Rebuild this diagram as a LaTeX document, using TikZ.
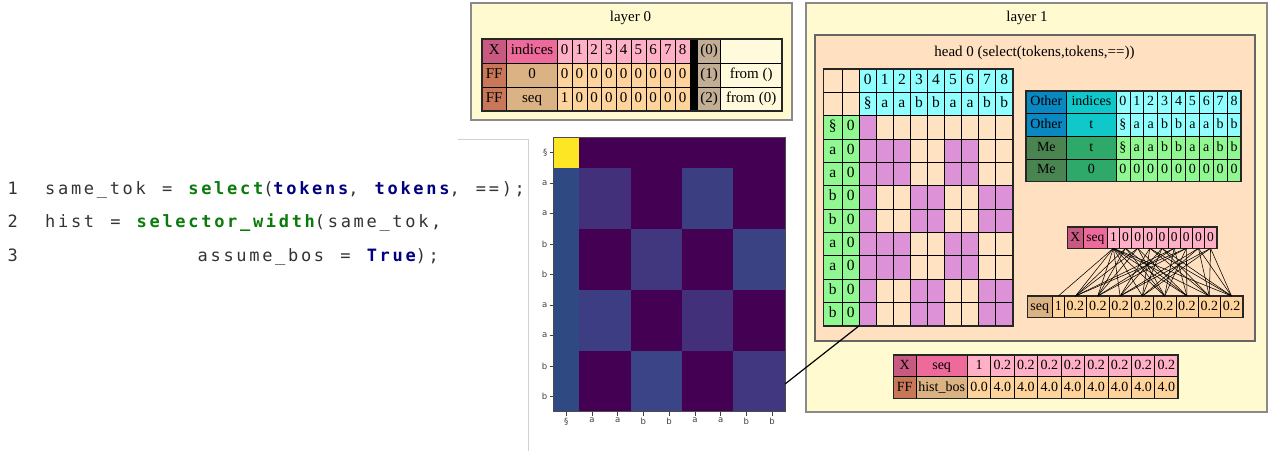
\documentclass[tikz,border=0pt]{standalone}
\usepackage{fontspec}
\setmainfont{Liberation Serif}
\newfontfamily\codefont[LetterSpace=15.8,WordSpace=1.25]{DejaVu Sans Mono}
\newfontfamily\tickfont{DejaVu Sans}
\definecolor{layerbg}{HTML}{FFFAD0}
\definecolor{layerdraw}{HTML}{8A8A8A}
\definecolor{headbg}{HTML}{FFE0C0}
\definecolor{xcol}{HTML}{C85A82}
\definecolor{pinkdark}{HTML}{EE6A9A}
\definecolor{pinklight}{HTML}{FFB0C6}
\definecolor{ffcol}{HTML}{C87858}
\definecolor{tanc}{HTML}{DBB283}
\definecolor{peach}{HTML}{FFD49C}
\definecolor{wheatc}{HTML}{C2AD95}
\definecolor{cream}{HTML}{FFFADC}
\definecolor{mpeach}{HTML}{FFE2C2}
\definecolor{plumc}{HTML}{DD92D8}
\definecolor{greenc}{HTML}{90F890}
\definecolor{cyanc}{HTML}{90FFFF}
\definecolor{otherc}{HTML}{0A88C2}
\definecolor{cyanmid}{HTML}{10C8CA}
\definecolor{medark}{HTML}{4A8450}
\definecolor{memid}{HTML}{2FA96A}
\definecolor{codegray}{HTML}{333333}
\definecolor{cgreen}{HTML}{0A7A0A}
\definecolor{cnavy}{HTML}{000080}
\definecolor{vyellow}{HTML}{FDE725}
\definecolor{vdark}{HTML}{440154}
\definecolor{vcol}{HTML}{2F4A82}
\definecolor{hm11}{HTML}{43307B}
\definecolor{hm13}{HTML}{3C3E82}
\definecolor{hm22}{HTML}{41377E}
\definecolor{hm24}{HTML}{3A4284}
\definecolor{hm31}{HTML}{3D3D83}
\definecolor{hm33}{HTML}{43307A}
\definecolor{hm42}{HTML}{3A4486}
\definecolor{hm44}{HTML}{413780}
\newcommand\tabfont{\fontsize{15}{15}\selectfont}
\newcommand\cg[1]{{\bfseries\color{cgreen}#1}}
\newcommand\cb[1]{{\bfseries\color{cnavy}#1}}
\tikzset{
 cell/.style={draw=black, line width=0.6pt, inner sep=0pt, outer sep=0pt, anchor=north west, font=\tabfont, text height=9.5pt, text depth=2.5pt},
 tframe/.style={draw=black!85, line width=1.6pt},
 layerbox/.style={draw=layerdraw, line width=1.4pt, fill=layerbg, inner sep=0pt, outer sep=0pt, anchor=north west},
 headbox/.style={draw=black!60, line width=1.3pt, fill=headbg, inner sep=0pt, outer sep=0pt, anchor=north west},
 title/.style={font=\fontsize{15}{15}\selectfont, inner sep=0pt},
 codest/.style={anchor=base west, inner sep=0pt, font=\codefont\fontsize{17}{17}\selectfont, text=codegray},
 fan/.style={draw=black, line width=0.55pt},
 tickln/.style={draw=black!75, line width=0.6pt},
 ticklab/.style={font=\tickfont\fontsize{8.5}{8.5}\selectfont, text=black!75, inner sep=0pt},
 conn/.style={draw=black, line width=1.2pt}
}
\newcommand\cel[7]{\node[cell, fill=#6, minimum width=#4pt, minimum height=#5pt] (#1) at (#2,#3) {#7};}
\newcommand\rowvals[7]{\foreach \v [count=\c from 0] in {#7} {\pgfmathsetmacro\xx{#2+\c*#4}\cel{#1-\c}{\xx}{#3}{#4}{#5}{#6}{\v}}}
\begin{document}
\begin{tikzpicture}[x=1pt,y=-1pt]
\useasboundingbox (0,0) rectangle (1269,451);
% ---------------- code
\node[codest] (n1) at (7.5,194) {1};
\node[codest] (n2) at (7.5,227.5) {2};
\node[codest] (n3) at (7.5,261.5) {3};
\node[codest] (c1) at (45,194) {same\_tok = \cg{select}(\cb{tokens}, \cb{tokens}, ==);};
\node[codest] (c2) at (45,227.5) {hist = \cg{selector\_width}(same\_tok,};
\node[codest] (c3) at (197.5,261.5) {assume\_bos = \cb{True});};
% ---------------- gray frame
\draw[black!18, line width=0.8pt] (458,139) -- (528,139) -- (528,451);
% ---------------- heatmap
\foreach \r in {0,...,8}{\foreach \c in {0,...,8}{
 \pgfmathtruncatemacro\rb{(\r+1)/2}
 \pgfmathtruncatemacro\cbb{(\c+1)/2}
 \pgfmathtruncatemacro\pr{mod(\rb+\cbb,2)}
 \ifnum\r=0 \ifnum\c=0 \def\hc{vyellow}\else\def\hc{vdark}\fi
 \else \ifnum\c=0 \def\hc{vcol}\else \ifnum\pr=0 \edef\hc{hm\rb\cbb}\else\def\hc{vdark}\fi\fi\fi
 \fill[\hc] (553.3+\c*25.74,137.3+\r*30.49) rectangle ++(25.74,30.49);
}}
\draw[black!70, line width=0.8pt] (553.3,137.3) rectangle (785,411.7);
\foreach \t [count=\i from 0] in {§,a,a,b,b,a,a,b,b}{
 \draw[tickln] (549.5,152.5+\i*30.49) -- ++(3.8,0);
 \node[ticklab, anchor=east] (yt-\i) at (547.5,152.5+\i*30.49) {\t};
 \draw[tickln] (566.2+\i*25.74,411.7) -- ++(0,3.8);
 \node[ticklab, anchor=north] (xt-\i) at (566.2+\i*25.74,418) {\t};
}
\coordinate (hmR) at (785,384);
% ---------------- layer 0
\node[layerbox, minimum width=321pt, minimum height=117pt] (layer0) at (471,3) {};
\node[title] (l0t) at (630.5,17.5) {layer 0};
\cel{a0x}{481.7}{39}{25}{24}{xcol}{X}
\cel{a0n}{506.7}{39}{50.6}{24}{pinkdark}{indices}
\rowvals{a0v}{557.3}{39}{14.75}{24}{pinklight}{0,1,2,3,4,5,6,7,8}
\cel{a0b}{690}{39}{7.3}{24}{black}{}
\cel{a0k}{697.3}{39}{23.4}{24}{wheatc}{(0)}
\cel{a0t}{720.7}{39}{61}{24}{cream}{}
\cel{a1x}{481.7}{63}{25}{24}{ffcol}{FF}
\cel{a1n}{506.7}{63}{50.6}{24}{tanc}{0}
\rowvals{a1v}{557.3}{63}{14.75}{24}{peach}{0,0,0,0,0,0,0,0,0}
\cel{a1b}{690}{63}{7.3}{24}{black}{}
\cel{a1k}{697.3}{63}{23.4}{24}{wheatc}{(1)}
\cel{a1t}{720.7}{63}{61}{24}{cream}{from ()}
\cel{a2x}{481.7}{87}{25}{24}{ffcol}{FF}
\cel{a2n}{506.7}{87}{50.6}{24}{tanc}{seq}
\rowvals{a2v}{557.3}{87}{14.75}{24}{peach}{1,0,0,0,0,0,0,0,0}
\cel{a2b}{690}{87}{7.3}{24}{black}{}
\cel{a2k}{697.3}{87}{23.4}{24}{wheatc}{(2)}
\cel{a2t}{720.7}{87}{61}{24}{cream}{from (0)}
\draw[tframe] (481.7,39) rectangle (781.7,111);
% ---------------- layer 1
\node[layerbox, minimum width=461pt, minimum height=409pt] (layer1) at (806,3) {};
\node[title] (l1t) at (1027,17.5) {layer 1};
\node[headbox, minimum width=440pt, minimum height=306pt] (head) at (815,35) {};
\node[title] (ht) at (1034.5,53) {head 0 (select(tokens,tokens,==))};
% selector matrix
\renewcommand\tabfont{\fontsize{15.5}{15}\selectfont}
\cel{m-0-a}{823.3}{69}{19}{23.33}{mpeach}{}
\cel{m-0-b}{842.3}{69}{17}{23.33}{mpeach}{}
\rowvals{m-0}{859.3}{69}{17.04}{23.33}{cyanc}{0,1,2,3,4,5,6,7,8}
\cel{m-1-a}{823.3}{92.33}{19}{23.33}{mpeach}{}
\cel{m-1-b}{842.3}{92.33}{17}{23.33}{mpeach}{}
\rowvals{m-1}{859.3}{92.33}{17.04}{23.33}{cyanc}{§,a,a,b,b,a,a,b,b}
\foreach \cr/\tk [count=\r from 2] in {0/§,1/a,1/a,2/b,2/b,1/a,1/a,2/b,2/b}{
 \pgfmathsetmacro\yy{69+\r*23.333}
 \cel{m-\r-a}{823.3}{\yy}{19}{23.33}{greenc}{\tk}
 \cel{m-\r-b}{842.3}{\yy}{17}{23.33}{greenc}{0}
 \foreach \cc [count=\c from 0] in {0,1,1,2,2,1,1,2,2}{
  \pgfmathsetmacro\xx{859.3+\c*17.04}
  \pgfmathtruncatemacro\sel{or(\c==0,\cr==\cc)}
  \ifnum\sel=1 \def\fc{plumc}\else\def\fc{mpeach}\fi
  \cel{m-\r-\c}{\xx}{\yy}{17.04}{23.33}{\fc}{}
 }
}
\draw[tframe] (823.3,69) rectangle (1012.7,325.7);
% other / me table
\renewcommand\tabfont{\fontsize{14}{14}\selectfont}
\cel{o0a}{1026}{91}{40.7}{22.67}{otherc}{Other}
\cel{o0b}{1066.7}{91}{49.3}{22.67}{cyanmid}{indices}
\rowvals{o0}{1116}{91}{13.89}{22.67}{cyanc}{0,1,2,3,4,5,6,7,8}
\cel{o1a}{1026}{113.67}{40.7}{22.67}{otherc}{Other}
\cel{o1b}{1066.7}{113.67}{49.3}{22.67}{cyanmid}{t}
\rowvals{o1}{1116}{113.67}{13.89}{22.67}{cyanc}{§,a,a,b,b,a,a,b,b}
\cel{o2a}{1026}{136.33}{40.7}{22.67}{medark}{Me}
\cel{o2b}{1066.7}{136.33}{49.3}{22.67}{memid}{t}
\rowvals{o2}{1116}{136.33}{13.89}{22.67}{greenc}{§,a,a,b,b,a,a,b,b}
\cel{o3a}{1026}{159}{40.7}{22.67}{medark}{Me}
\cel{o3b}{1066.7}{159}{49.3}{22.67}{memid}{0}
\rowvals{o3}{1116}{159}{13.89}{22.67}{greenc}{0,0,0,0,0,0,0,0,0}
\draw[tframe] (1026,91) rectangle (1241,181.67);
% X seq row
\renewcommand\tabfont{\fontsize{13.5}{13.5}\selectfont}
\cel{xsx}{1067.3}{226.7}{16}{21.6}{xcol}{X}
\cel{xsn}{1083.3}{226.7}{24}{21.6}{pinkdark}{seq}
\rowvals{xs}{1107.3}{226.7}{12.15}{21.6}{pinklight}{1,0,0,0,0,0,0,0,0}
\draw[tframe] (1067.3,226.7) rectangle (1216.7,248.3);
% bottom seq row
\renewcommand\tabfont{\fontsize{14}{14}\selectfont}
\cel{bsn}{1027.3}{296}{25}{21.3}{tanc}{seq}
\cel{bs-0}{1052.3}{296}{12}{21.3}{peach}{1}
\foreach \k in {1,...,8}{
 \pgfmathsetmacro\xx{1064.3+(\k-1)*22.3}
 \cel{bs-\k}{\xx}{296}{22.3}{21.3}{peach}{0.2}
}
\draw[tframe] (1027.3,296) rectangle (1242.7,317.3);
% fan connectors
\draw[fan] (xs-0.south) -- (bs-0.north);
\foreach \i in {1,2,5,6}{\foreach \j in {0,1,2,5,6}{\draw[fan] (xs-\j.south) -- (bs-\i.north);}}
\foreach \i in {3,4,7,8}{\foreach \j in {0,3,4,7,8}{\draw[fan] (xs-\j.south) -- (bs-\i.north);}}
% hist table
\cel{h0x}{893.3}{355}{22.7}{21.7}{xcol}{X}
\cel{h0n}{916}{355}{51.3}{21.7}{pinkdark}{seq}
\rowvals{h0}{967.3}{355}{23.43}{21.7}{pinklight}{1,0.2,0.2,0.2,0.2,0.2,0.2,0.2,0.2}
\cel{h1x}{893.3}{376.7}{22.7}{21.7}{ffcol}{FF}
\cel{h1n}{916}{376.7}{51.3}{21.7}{tanc}{hist\_bos}
\rowvals{h1}{967.3}{376.7}{23.43}{21.7}{peach}{0.0,4.0,4.0,4.0,4.0,4.0,4.0,4.0,4.0}
\draw[tframe] (893.3,355) rectangle (1178.2,398.4);
% connector from matrix to heatmap
\draw[conn] (m-10-0.south west) -- (hmR);
\end{tikzpicture}
\end{document}
